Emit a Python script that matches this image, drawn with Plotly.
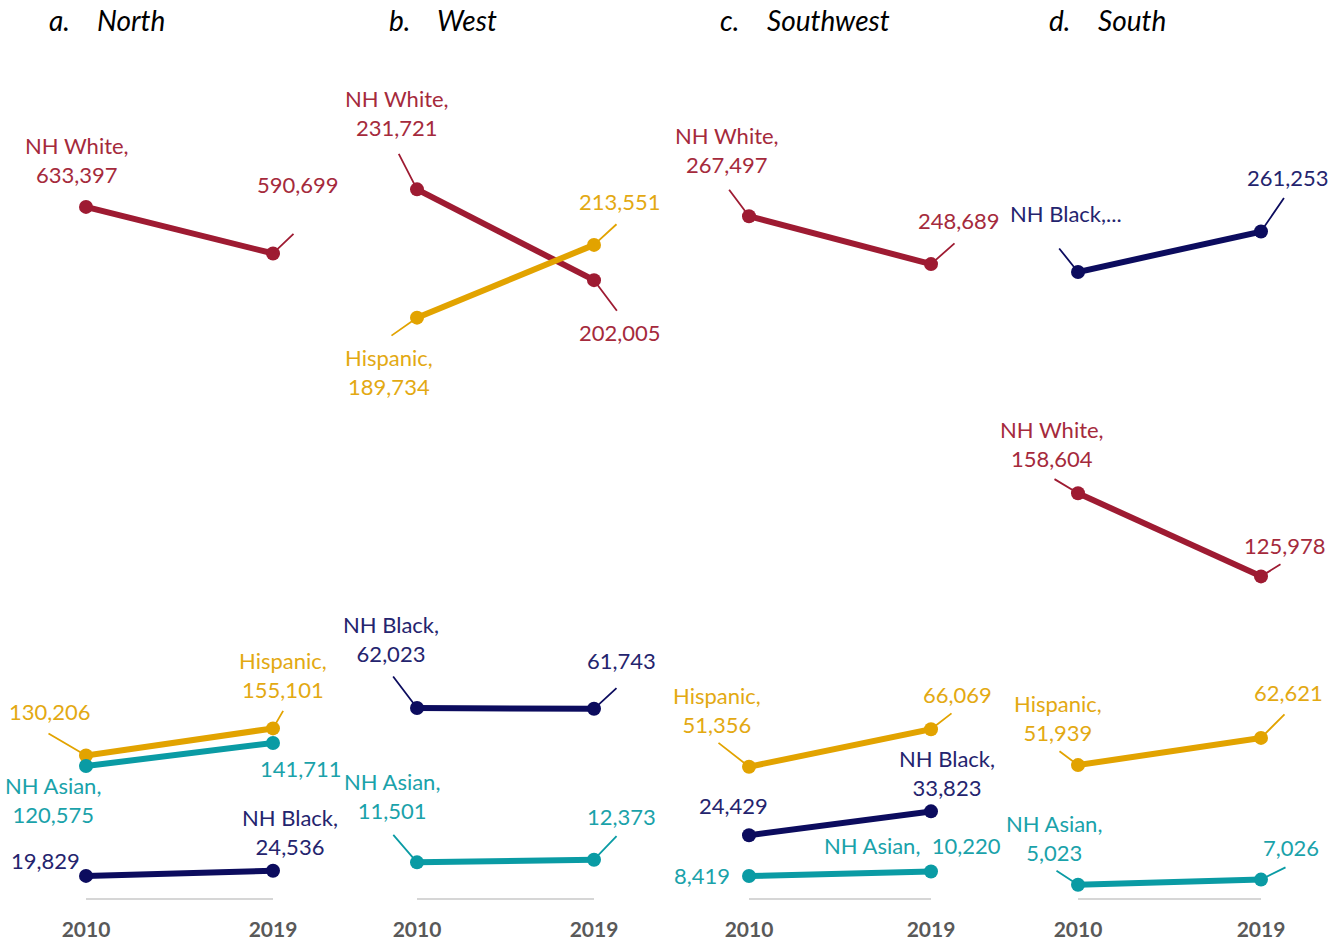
import plotly.graph_objects as go

# ---------------- data ----------------
regions = ["North", "West", "Southwest", "South"]
letters = ["a.", "b.", "c.", "d."]
years = [2010, 2019]
year_labels = ["2010", "2019"]

white_2010 = [633397, 231721, 267497, 158604]
white_2019 = [590699, 202005, 248689, 125978]
hisp_2010 = [130206, 189734, 51356, 51939]
hisp_2019 = [155101, 213551, 66069, 62621]
black_2010 = [19829, 62023, 24429, 245400]
black_2019 = [24536, 61743, 33823, 261253]
asian_2010 = [120575, 11501, 8419, 5023]
asian_2019 = [141711, 12373, 10220, 7026]

groups = ["NH White", "Hispanic", "NH Black", "NH Asian"]
series = {
    "NH White": (white_2010, white_2019),
    "Hispanic": (hisp_2010, hisp_2019),
    "NH Black": (black_2010, black_2019),
    "NH Asian": (asian_2010, asian_2019),
}

# ---------------- styles ----------------
line_colors = {"NH White": "#9E1B32", "Hispanic": "#E2A300",
               "NH Black": "#0C0C5E", "NH Asian": "#0A9BA4"}
text_colors = {"NH White": "#A52A3C", "Hispanic": "#E3A912",
               "NH Black": "#24246E", "NH Asian": "#1AA2AA"}
FONT = "Lato"
W, H = 1336, 942
panel_px = [(86, 273), (417, 594), (749, 931), (1078, 1261)]
plot_top_px, plot_bottom_px = 60, 897.5
y_max = [768137, 274051, 328818, 328560]

# label layout: (region index, group, year index) -> (style, dx, dy, leader offset or None)
# style: 'nv' = name + value on two lines, 'v' = value only, 'inline', 'trunc'
label_layout = {
    (0, "NH White", 0): ("nv", -9, -46.5, None),
    (0, "NH White", 1): ("v", 24.5, -68.5, (22, -21)),
    (0, "Hispanic", 0): ("v", -36, -44, (-39, -23)),
    (0, "Hispanic", 1): ("nv", 10, -53.5, (11, -19)),
    (0, "NH Asian", 0): ("nv", -33, 34, None),
    (0, "NH Asian", 1): ("v", 28, 26, None),
    (0, "NH Black", 0): ("v", -40, -15, None),
    (0, "NH Black", 1): ("nv", 17, -39, None),

    (1, "NH White", 0): ("nv", -20, -76.5, (-19, -37)),
    (1, "NH White", 1): ("v", 26, 52.5, (24, 32)),
    (1, "Hispanic", 0): ("nv", -28, 54, (-27, 19)),
    (1, "Hispanic", 1): ("v", 26, -43, (24, -22)),
    (1, "NH Black", 0): ("nv", -26, -69, (-25, -33)),
    (1, "NH Black", 1): ("v", 27, -48, (24, -22)),
    (1, "NH Asian", 0): ("nv", -25.5, -66, (-25, -29)),
    (1, "NH Asian", 1): ("v", 27, -43, (24, -25)),

    (2, "NH White", 0): ("nv", -22, -66, (-21, -28)),
    (2, "NH White", 1): ("v", 28, -44, (25, -22)),
    (2, "Hispanic", 0): ("nv", -32, -57, (-32, -25)),
    (2, "Hispanic", 1): ("v", 26, -35, (22, -17)),
    (2, "NH Black", 0): ("v", -16, -30, None),
    (2, "NH Black", 1): ("nv", 16, -38, None),
    (2, "NH Asian", 0): ("v", -47, -1, None),
    (2, "NH Asian", 1): ("inline", -18.5, -25.5, None),

    (3, "NH Black", 0): ("trunc", -12, -58, (-20, -25)),
    (3, "NH Black", 1): ("v", 27, -54, (24, -35)),
    (3, "NH White", 0): ("nv", -26, -49, (-25, -15)),
    (3, "NH White", 1): ("v", 24, -31, (21, -13)),
    (3, "Hispanic", 0): ("nv", -20.5, -47, (-20, -15)),
    (3, "Hispanic", 1): ("v", 27, -45, (25, -25)),
    (3, "NH Asian", 0): ("nv", -24, -47, (-23, -15)),
    (3, "NH Asian", 1): ("v", 30, -32, (26, -13)),
}


def label_text(style, name, value):
    v = f"{value:,}"
    if style == "nv":
        return f"{name},<br>{v}"
    if style == "inline":
        return f"{name},\u00a0\u00a0{v}"
    if style == "trunc":
        return f"{name},..."
    return v


fig = go.Figure()
annotations = []
layout_axes = {}

y_dom = [(H - plot_bottom_px) / H, (H - plot_top_px) / H]

for i, region in enumerate(regions):
    suffix = "" if i == 0 else str(i + 1)
    xa, ya = "x" + suffix, "y" + suffix
    x0, x1 = panel_px[i]
    layout_axes["xaxis" + suffix] = dict(
        domain=[x0 / W, x1 / W], range=[years[0], years[1]], anchor=ya,
        showline=True, linecolor="#D6D6D6", linewidth=2,
        showgrid=False, zeroline=False, ticks="", automargin=False,
        tickvals=years, ticktext=year_labels, ticklabelstandoff=12,
        tickfont=dict(family=FONT, size=21, color="#595959", weight="bold"),
        fixedrange=True,
    )
    layout_axes["yaxis" + suffix] = dict(
        domain=y_dom, range=[0, y_max[i]], anchor=xa, visible=False,
        showgrid=False, zeroline=False, fixedrange=True, automargin=False,
    )
    for g in groups:
        v2010, v2019 = series[g]
        vals = [v2010[i], v2019[i]]
        fig.add_trace(go.Scatter(
            x=years, y=vals, xaxis=xa, yaxis=ya, mode="lines+markers",
            line=dict(color=line_colors[g], width=6),
            marker=dict(color=line_colors[g], size=14),
            cliponaxis=False, showlegend=False, hoverinfo="skip",
        ))
        for k in range(2):
            style, dx, dy, leader = label_layout[(i, g, k)]
            if leader is not None:
                annotations.append(dict(
                    x=years[k], y=vals[k], xref=xa, yref=ya, text="",
                    showarrow=True, arrowhead=0, arrowwidth=1.8,
                    arrowcolor=line_colors[g], ax=leader[0], ay=leader[1],
                    standoff=0,
                ))
            annotations.append(dict(
                x=years[k], y=vals[k], xref=xa, yref=ya,
                text=label_text(style, g, vals[k]), showarrow=False,
                xanchor="center", yanchor="middle", xshift=dx, yshift=-dy,
                font=dict(family=FONT, size=22, color=text_colors[g]),
            ))

# panel titles
title_px = [(47, 95), (387, 435), (718, 765), (1047, 1096)]
for i, region in enumerate(regions):
    for txt, px in ((letters[i], title_px[i][0]), (region, title_px[i][1])):
        annotations.append(dict(
            x=px / W, y=1 - 20 / H, xref="paper", yref="paper", text=txt,
            showarrow=False, xanchor="left", yanchor="middle",
            font=dict(family=FONT, size=28, color="#000000", style="italic"),
        ))

fig.update_layout(
    width=W, height=H, margin=dict(l=0, r=0, t=0, b=0, autoexpand=False),
    paper_bgcolor="white", plot_bgcolor="white",
    annotations=annotations, showlegend=False, **layout_axes,
)

fig.write_html(
    "out.html",
    config={"displayModeBar": False},
    post_script="document.body.style.margin='0';document.body.style.overflow='hidden';",
)
